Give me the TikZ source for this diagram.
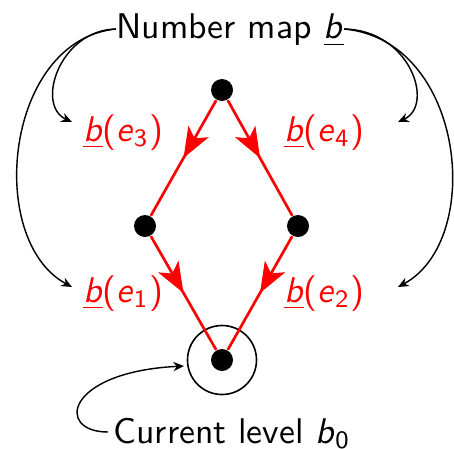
\documentclass[tikz,border=0pt]{standalone}
\usetikzlibrary{arrows.meta,decorations.markings}
\begin{document}
\begin{tikzpicture}[x=0.28pt,y=-0.28pt,
  font=\sffamily,
  dot/.style={circle,fill=black,minimum size=22*0.28pt,inner sep=0pt},
  ring/.style={circle,draw=black,line width=0.45pt,minimum size=69*0.28pt,inner sep=0pt},
  lbl/.style={text=red,anchor=base},
  ttl/.style={anchor=base},
  edge/.style={draw=red,line width=0.75pt,postaction={decorate},
    decoration={markings,mark=at position 0.5 with {\arrow{Stealth[length=8.5pt,width=6.5pt,inset=2.2pt]}}}},
  callout/.style={draw=black,line width=0.4pt,-{Stealth[length=3pt,width=2.6pt]}}]
\useasboundingbox (0,0) rectangle (454,448);
% nodes
\node[dot] (t) at (222,90) {};
\node[dot] (l) at (145,226) {};
\node[dot] (r) at (298,226) {};
\node[dot] (b) at (222,360) {};
\node[ring] (ring) at (222,360) {};
% edges
\path[edge] (t) -- (l);
\path[edge] (t) -- (r);
\path[edge] (l) -- (b);
\path[edge] (r) -- (b);
% labels
\node[lbl] (e3) at (123,141) {\underline{\textit{b}}(\textit{e}\textsubscript{3})};
\node[lbl] (e4) at (324,141) {\underline{\textit{b}}(\textit{e}\textsubscript{4})};
\node[lbl] (e1) at (123,302) {\underline{\textit{b}}(\textit{e}\textsubscript{1})};
\node[lbl] (e2) at (324,302) {\underline{\textit{b}}(\textit{e}\textsubscript{2})};
% titles
\node[ttl] (map) at (230,39) {Number map \underline{\textit{b}}};
\node[ttl] (cur) at (232,443) {Current level \textit{b}\textsubscript{0}};
% arrow targets
\coordinate (a3) at (72,122);
\coordinate (a1) at (72,287);
\coordinate (a4) at (398,122);
\coordinate (a2) at (398,287);
\coordinate (ml) at (116,29);
\coordinate (mr) at (344,29);
\coordinate (cl) at (108,432);
\coordinate (ca) at (184,366);
% callouts
\draw[callout] (ml) .. controls (60,30) and (35,105) .. (a3);
\draw[callout] (ml) .. controls (5,40) and (-15,240) .. (a1);
\draw[callout] (mr) .. controls (410,30) and (435,105) .. (a4);
\draw[callout] (mr) .. controls (465,40) and (485,240) .. (a2);
\draw[callout] (cl) .. controls (55,432) and (65,372) .. (ca);
\end{tikzpicture}
\end{document}
